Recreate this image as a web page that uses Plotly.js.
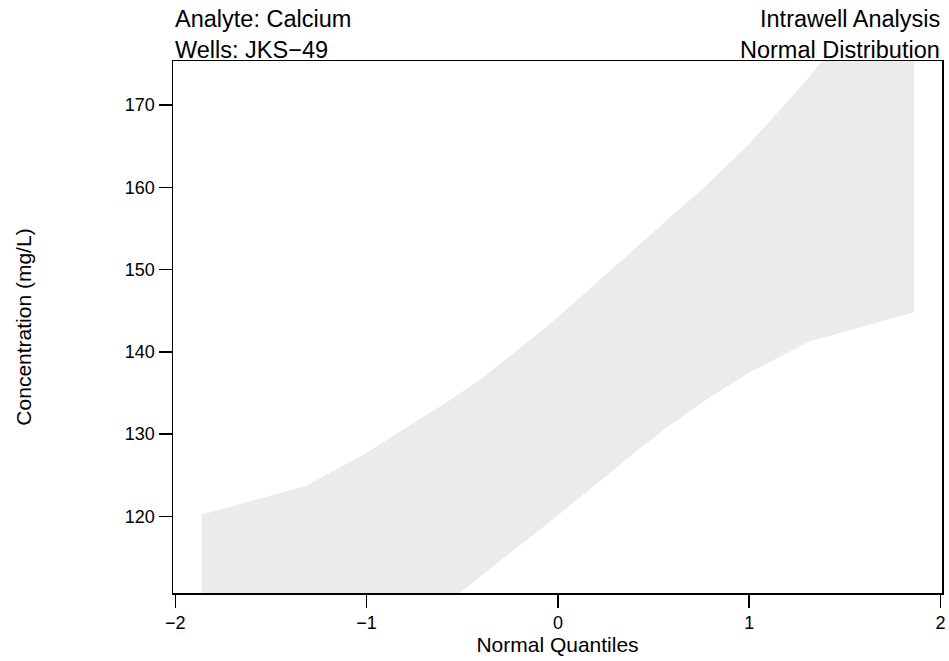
<!DOCTYPE html>
<html>
<head>
<meta charset="utf-8">
<script src="https://cdn.plot.ly/plotly-3.0.1.min.js"></script>
<style>html,body{margin:0;padding:0;background:#fff;}#chart{width:949px;height:661px;}</style>
</head>
<body>
<div id="chart"></div>
<script>
// Normal quantiles (n = 16)
const quantiles = [-1.863, -1.318, -1.010, -0.776, -0.579, -0.402, -0.237, -0.078,
                   0.078, 0.237, 0.402, 0.579, 0.776, 1.010, 1.318, 1.863];
// Upper and lower confidence band limits (mg/L)
const upperBand = [120.2, 123.7, 127.6, 131.0, 133.9, 136.7, 139.8, 142.7,
                   145.8, 149.1, 152.6, 156.2, 160.2, 165.5, 173.5, 190.0];
const lowerBand = [90.0, 98.0, 103.0, 106.5, 109.5, 112.7, 115.8, 118.7,
                   121.6, 124.6, 127.8, 131.0, 134.2, 137.6, 141.3, 144.8];
const xTicks = [-2, -1, 0, 1, 2];
const yTicks = [120, 130, 140, 150, 160, 170];

const polyX = quantiles.concat(quantiles.slice().reverse());
const polyY = upperBand.concat(lowerBand.slice().reverse());

const band = {
  x: polyX, y: polyY, type: 'scatter', mode: 'lines',
  fill: 'toself', fillcolor: '#EBEBEB', line: {width: 0, color: 'rgba(0,0,0,0)'},
  hoverinfo: 'skip', showlegend: false
};

const FONT = 'Liberation Sans, Arial, sans-serif';
const plotTop = 61, plotBottom = 593.3, plotH = plotBottom - plotTop;
function py(p) { return (plotBottom - p) / plotH; }

const layout = {
  width: 949, height: 661,
  margin: {l: 173, r: 7.3, t: plotTop, b: 661 - plotBottom, pad: 0},
  paper_bgcolor: '#fff', plot_bgcolor: '#fff',
  font: {family: FONT, color: '#000', size: 18},
  showlegend: false,
  xaxis: {
    range: [-2.012, 2.008], tickvals: xTicks, ticktext: xTicks.map(v => v < 0 ? '\u2212' + Math.abs(v) : String(v)),
    showgrid: false, zeroline: false, showline: true, mirror: true,
    linecolor: '#000', linewidth: 1.5, ticks: 'outside', ticklen: 13, tickwidth: 1.5, tickcolor: '#000',
    tickfont: {size: 18, family: FONT},
    title: {text: 'Normal Quantiles', font: {size: 21, family: FONT}, standoff: 4}
  },
  yaxis: {
    range: [110.70, 175.34], tickvals: yTicks,
    showgrid: false, zeroline: false, showline: true, mirror: true,
    linecolor: '#000', linewidth: 1.5, ticks: 'outside', ticklen: 13, tickwidth: 1.5, tickcolor: '#000',
    tickfont: {size: 18, family: FONT},
    title: {text: 'Concentration (mg/L)', font: {size: 21, family: FONT}, standoff: 87}
  },
  annotations: [
    {text: 'Analyte: Calcium', xref: 'paper', yref: 'paper', x: 0, y: py(19), xanchor: 'left', yanchor: 'middle', showarrow: false, font: {size: 23.5, family: FONT}},
    {text: 'Wells: JKS\u221249', xref: 'paper', yref: 'paper', x: 0, y: py(49.5), xanchor: 'left', yanchor: 'middle', showarrow: false, font: {size: 23.5, family: FONT}},
    {text: 'Intrawell Analysis', xref: 'paper', yref: 'paper', x: 1, y: py(19), xanchor: 'right', yanchor: 'middle', showarrow: false, font: {size: 23.5, family: FONT}},
    {text: 'Normal Distribution', xref: 'paper', yref: 'paper', x: 1, y: py(49.5), xanchor: 'right', yanchor: 'middle', showarrow: false, font: {size: 23.5, family: FONT}}
  ]
};

Plotly.newPlot('chart', [band], layout, {staticPlot: true, displayModeBar: false});
</script>
</body>
</html>
